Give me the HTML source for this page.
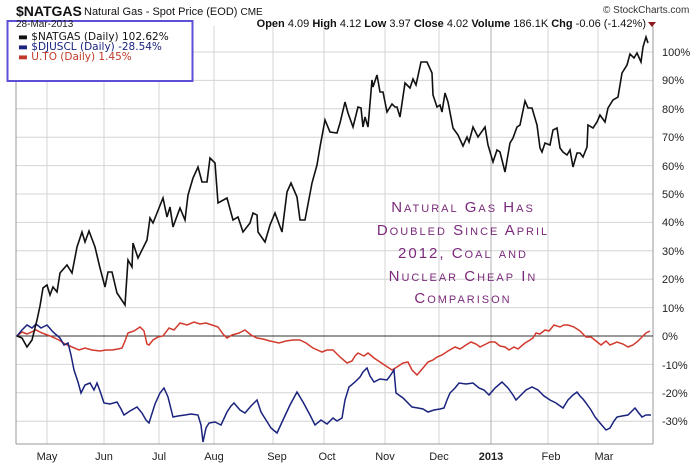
<!DOCTYPE html>
<html><head><meta charset="utf-8"><style>
body{margin:0;background:#fff;width:700px;height:466px;overflow:hidden;font-family:"Liberation Sans",sans-serif}
</style></head><body>
<svg width="700" height="466" viewBox="0 0 700 466" xmlns="http://www.w3.org/2000/svg" font-family="Liberation Sans, sans-serif">
<rect width="700" height="466" fill="#fff"/>
<g stroke="#d4d4d4" stroke-width="1">
<line x1="16" x2="653" y1="52" y2="52"/><line x1="16" x2="653" y1="80.4" y2="80.4"/><line x1="16" x2="653" y1="108.8" y2="108.8"/><line x1="16" x2="653" y1="137.2" y2="137.2"/><line x1="16" x2="653" y1="165.6" y2="165.6"/><line x1="16" x2="653" y1="194" y2="194"/><line x1="16" x2="653" y1="222.4" y2="222.4"/><line x1="16" x2="653" y1="250.8" y2="250.8"/><line x1="16" x2="653" y1="279.2" y2="279.2"/><line x1="16" x2="653" y1="307.6" y2="307.6"/><line x1="16" x2="653" y1="364.4" y2="364.4"/><line x1="16" x2="653" y1="392.8" y2="392.8"/><line x1="16" x2="653" y1="421.2" y2="421.2"/>
<line x1="47" x2="47" y1="26" y2="444"/><line x1="104" x2="104" y1="26" y2="444"/><line x1="159" x2="159" y1="26" y2="444"/><line x1="214" x2="214" y1="26" y2="444"/><line x1="273" x2="273" y1="26" y2="444"/><line x1="324" x2="324" y1="26" y2="444"/><line x1="385" x2="385" y1="26" y2="444"/><line x1="439" x2="439" y1="26" y2="444"/><line x1="548" x2="548" y1="26" y2="444"/><line x1="598" x2="598" y1="26" y2="444"/>
</g>
<line x1="491" x2="491" y1="26" y2="444" stroke="#b0b0b0"/>
<line x1="16" x2="16" y1="26" y2="444" stroke="#999"/>
<line x1="653" x2="653" y1="26" y2="444" stroke="#999"/>
<line x1="16" x2="653" y1="444" y2="444" stroke="#999"/>
<line x1="16" x2="653" y1="336" y2="336" stroke="#333" stroke-width="1"/>
<g font-size="11" fill="#222">
<text x="662" y="56">100%</text><text x="662" y="84">90%</text><text x="662" y="113">80%</text><text x="662" y="141">70%</text><text x="662" y="170">60%</text><text x="662" y="198">50%</text><text x="662" y="226">40%</text><text x="662" y="255">30%</text><text x="662" y="283">20%</text><text x="662" y="312">10%</text><text x="662" y="340">0%</text><text x="662" y="369">-10%</text><text x="662" y="397">-20%</text><text x="662" y="425">-30%</text>
</g>
<g font-size="11" fill="#222" text-anchor="middle">
<text x="47" y="460">May</text><text x="104" y="460">Jun</text><text x="159" y="460">Jul</text><text x="214" y="460">Aug</text><text x="277" y="460">Sep</text><text x="327" y="460">Oct</text><text x="385" y="460">Nov</text><text x="439" y="460">Dec</text><text x="491" y="460" font-weight="bold">2013</text><text x="551" y="460">Feb</text><text x="604" y="460">Mar</text>
</g>
<polyline fill="none" stroke="#d23a2e" stroke-width="1.5" points="17,336 22,332 27,334 36,330 42,333 50,336 59,340 65,344 72,347 79,350 85,348 92,350 100,351 106,350 112,350 118,349 122,348 125,341 128,333 134,331 140,327 144,331 147,344 149,345 153,340 158,337 163,336 169,328 174,330 180,323 187,325 194,322 200,324 206,323 212,325 218,327 223,334 227,338 232,335 239,333 245,330 251,335 257,338 263,339 270,341 279,343 286,341 293,340 300,340 306,343 313,348 322,352 327,350 333,350 340,357 347,363 352,361 355,356 358,353 364,356 368,353 374,358 380,362 386,366 392,370 397,367 403,363 408,362 412,370 417,375 423,368 428,362 433,360 437,357 442,355 448,351 455,347 460,349 466,345 471,342 476,344 480,347 486,344 490,342 495,342 500,346 505,347 509,350 514,347 518,349 525,343 530,340 533,338 536,333 540,334 545,330 549,331 554,325 560,327 564,325 568,325 574,327 580,331 586,337 591,337 596,341 601,345 606,341 610,345 617,342 623,344 628,347 633,345 638,341 643,336 646,333 650,331"/>
<polyline fill="none" stroke="#1a237e" stroke-width="1.5" points="17,336 22,330 27,325 32,328 36,324 41,328 47,325 53,332 60,338 64,345 68,343 71,355 74,370 78,382 81,393 85,385 90,383 94,390 97,383 100,391 104,403 110,404 117,402 121,409 124,415 130,411 137,407 142,413 146,420 149,423 155,404 160,393 164,388 168,397 173,417 178,416 185,415 191,414 198,415 201,425 203,442 206,428 209,423 215,422 221,425 227,412 231,406 234,403 240,410 245,413 251,406 257,400 261,412 266,420 271,428 277,433 283,420 290,405 297,392 303,402 310,415 315,425 321,420 327,424 333,418 337,421 342,418 345,400 349,387 355,382 360,377 363,372 367,368 370,376 374,382 380,379 387,380 390,376 394,370 396,393 403,398 412,407 418,408 423,409 428,412 434,410 440,409 444,408 447,400 450,393 455,388 459,383 466,384 473,383 479,388 484,390 489,395 495,388 502,382 508,388 513,395 516,400 521,395 526,390 532,387 538,390 544,396 550,400 556,403 563,408 568,400 573,395 577,392 580,396 583,399 586,403 591,410 595,417 600,423 606,430 610,428 614,421 617,417 622,416 628,415 631,412 635,408 638,412 642,417 646,415 651,415"/>
<polyline fill="none" stroke="#111" stroke-width="1.6" points="17,336 22,338 27,347 32,340 37,320 40,306 43,288 47,285 50,295 53,287 57,292 60,273 67,265 72,273 77,247 82,232 85,242 89,231 95,247 100,268 105,287 108,272 112,272 117,293 125,305 128,260 132,267 133,243 138,258 147,240 150,218 153,223 163,198 167,217 170,207 173,227 180,208 185,220 188,195 193,178 198,167 202,182 207,182 210,158 215,163 218,203 227,198 233,220 238,217 243,232 250,223 253,213 257,215 258,232 265,242 270,225 275,213 282,232 287,192 291,183 297,197 300,220 305,220 312,183 317,165 320,147 325,120 330,132 337,133 340,123 345,102 348,113 353,127 358,107 361,108 363,127 365,117 368,127 372,80 373,87 377,75 380,92 383,92 387,112 392,104 395,107 397,107 400,117 405,83 410,88 413,79 416,85 421,62 427,62 432,73 433,95 437,107 440,105 442,112 445,93 448,102 453,128 458,135 463,146 467,137 469,142 473,127 478,137 485,127 488,145 493,162 497,150 500,152 505,172 510,143 513,138 517,127 520,125 525,101 528,108 532,108 537,125 540,148 542,152 545,143 550,145 553,130 557,128 560,148 563,152 567,155 570,150 573,167 577,153 580,153 583,157 587,147 588,125 593,128 597,122 600,115 605,122 608,108 613,100 618,97 622,73 627,65 630,54 634,58 637,53 641,62 643,47 646,37 648,43"/>
<g fill="#7b2a7b" font-size="15" text-anchor="middle" letter-spacing="2" style="font-variant:small-caps">
<text x="463" y="212">Natural Gas Has</text>
<text x="463" y="235">Doubled Since April</text>
<text x="463" y="258">2012, Coal and</text>
<text x="463" y="281">Nuclear Cheap In</text>
<text x="463" y="303">Comparison</text>
</g>
<text x="16" y="16" font-size="14" font-weight="bold" fill="#111">$NATGAS</text>
<text x="84" y="15" font-size="11" fill="#111">Natural Gas - Spot Price (EOD) <tspan font-size="10">CME</tspan></text>
<text x="603" y="13" font-size="10" fill="#333">© StockCharts.com</text>
<text x="646" y="27" font-size="11" fill="#111" text-anchor="end"><tspan font-weight="bold">Open</tspan> 4.09  <tspan font-weight="bold">High</tspan> 4.12  <tspan font-weight="bold">Low</tspan> 3.97  <tspan font-weight="bold">Close</tspan> 4.02  <tspan font-weight="bold">Volume</tspan> 186.1K  <tspan font-weight="bold">Chg</tspan> -0.06 (-1.42%)</text>
<polygon points="648,22 656,22 652,27" fill="#8b1a1a"/>
<rect x="7.5" y="21" width="185" height="60" fill="#fff" stroke="#5b50d6" stroke-width="2"/>
<text x="16" y="27" font-size="10" fill="#222">28-Mar-2013</text>
<g font-size="10.5" font-family="DejaVu Sans, sans-serif">
<text x="18" y="40" fill="#111">▬ $NATGAS (Daily) 102.62%</text>
<text x="18" y="50" fill="#1a237e">▬ $DJUSCL (Daily) -28.54%</text>
<text x="18" y="60" fill="#c0392b">▬ U.TO (Daily) 1.45%</text>
</g>
</svg>
</body></html>
